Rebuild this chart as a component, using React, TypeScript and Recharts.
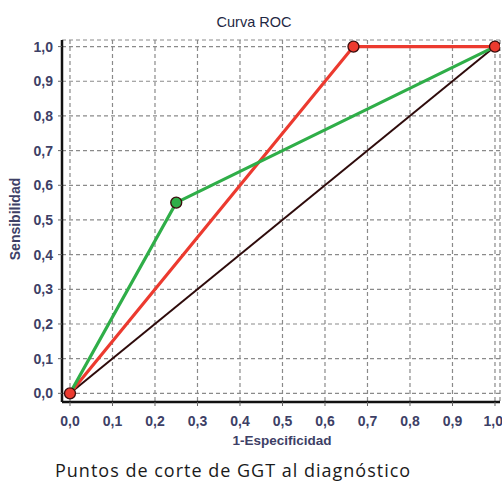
import React from 'react';
import {
  ComposedChart,
  Line,
  Scatter,
  XAxis,
  YAxis,
  CartesianGrid,
} from 'recharts';

// ROC curve for GGT cut-off points
const ggtRed = [
  { x: 0, y: 0 },
  { x: 0.667, y: 1 },
  { x: 1, y: 1 },
];
const ggtGreen = [
  { x: 0, y: 0 },
  { x: 0.25, y: 0.55 },
  { x: 1, y: 1 },
];
const reference = [
  { x: 0, y: 0 },
  { x: 1, y: 1 },
];
const axisTicks = [0, 0.1, 0.2, 0.3, 0.4, 0.5, 0.6, 0.7, 0.8, 0.9, 1];

const chartTitle = 'Curva ROC';
const xTitle = '1-Especificidad';
const yTitle = 'Sensibilidad';
const caption = 'Puntos de corte de GGT al diagnóstico';

const fmt = (v: number) => v.toFixed(1).replace('.', ',');

const tickStyle = {
  fontFamily: '"Liberation Sans", Arial, sans-serif',
  fontSize: 14,
  fontWeight: 700,
  fill: '#3d4066',
};

const labelFont = '"Liberation Sans", Arial, sans-serif';

const Marker = (fill: string) => (props: any) => {
  const { cx, cy } = props;
  if (cx == null || cy == null) return <g />;
  return <circle cx={cx} cy={cy} r={5.5} fill={fill} stroke="#3a0d0d" strokeWidth={1.3} />;
};

export default function App() {
  return (
    <div style={{ position: 'absolute', left: 0, top: 0, width: 502, height: 481, background: '#fff' }}>
      <ComposedChart
        width={502}
        height={481}
        margin={{ top: 40, right: 2, bottom: 0, left: 0 }}
      >
        <CartesianGrid
          xAxisId="b"
          yAxisId="l"
          stroke="#8a8a8a"
          strokeDasharray="4 3"
          strokeWidth={1.2}
        />
        <XAxis
          xAxisId="b"
          type="number"
          dataKey="x"
          domain={[-0.0188, 1.0118]}
          ticks={axisTicks}
          tickFormatter={fmt}
          allowDataOverflow
          height={79}
          tickSize={4}
          tickMargin={10}
          tick={tickStyle}
          tickLine={{ stroke: '#666' }}
          axisLine={{ stroke: '#111', strokeWidth: 2.5 }}
        />
        <XAxis
          xAxisId="t"
          type="number"
          dataKey="x"
          orientation="top"
          domain={[-0.0188, 1.0118]}
          height={0}
          tick={false}
          tickLine={false}
          axisLine={{ stroke: '#777', strokeWidth: 1.2 }}
        />
        <YAxis
          yAxisId="l"
          type="number"
          dataKey="y"
          domain={[-0.025, 1.019]}
          ticks={axisTicks}
          tickFormatter={fmt}
          allowDataOverflow
          width={62}
          tickSize={4}
          tickMargin={5}
          tick={tickStyle}
          tickLine={{ stroke: '#666' }}
          axisLine={{ stroke: '#111', strokeWidth: 2.5 }}
        />
        <YAxis
          yAxisId="r"
          type="number"
          dataKey="y"
          orientation="right"
          domain={[-0.025, 1.019]}
          width={0}
          tick={false}
          tickLine={false}
          axisLine={{ stroke: '#777', strokeWidth: 1.2 }}
        />
        <Line
          xAxisId="b"
          yAxisId="l"
          data={reference}
          dataKey="y"
          type="linear"
          stroke="#2e0b0b"
          strokeWidth={2}
          dot={false}
          isAnimationActive={false}
        />
        <Line
          xAxisId="b"
          yAxisId="l"
          data={ggtRed}
          dataKey="y"
          type="linear"
          stroke="#ec3a2f"
          strokeWidth={3.2}
          dot={false}
          isAnimationActive={false}
        />
        <Line
          xAxisId="b"
          yAxisId="l"
          data={ggtGreen}
          dataKey="y"
          type="linear"
          stroke="#2fae48"
          strokeWidth={3.2}
          dot={false}
          isAnimationActive={false}
        />
        <Scatter
          xAxisId="b"
          yAxisId="l"
          data={ggtGreen.slice(1, 2)}
          dataKey="y"
          shape={Marker('#2fae48')}
          isAnimationActive={false}
        />
        <Scatter
          xAxisId="b"
          yAxisId="l"
          data={ggtRed}
          dataKey="y"
          shape={Marker('#ec3a2f')}
          isAnimationActive={false}
        />
      </ComposedChart>
      <div
        style={{
          position: 'absolute',
          left: 254,
          top: 22,
          transform: 'translate(-50%, -50%)',
          fontFamily: labelFont,
          fontSize: 14.5,
          color: '#1f2844',
          whiteSpace: 'nowrap',
        }}
      >
        {chartTitle}
      </div>
      <div
        style={{
          position: 'absolute',
          left: 15,
          top: 219,
          transform: 'translate(-50%, -50%) rotate(-90deg)',
          fontFamily: labelFont,
          fontSize: 14,
          fontWeight: 700,
          color: '#3d4066',
          whiteSpace: 'nowrap',
        }}
      >
        {yTitle}
      </div>
      <div
        style={{
          position: 'absolute',
          left: 282,
          top: 440,
          transform: 'translate(-50%, -50%)',
          fontFamily: labelFont,
          fontSize: 13.5,
          fontWeight: 700,
          color: '#3d4066',
          whiteSpace: 'nowrap',
        }}
      >
        {xTitle}
      </div>
      <div
        style={{
          position: 'absolute',
          left: 55,
          top: 470,
          transform: 'translate(0, -50%)',
          fontFamily: '"Open Sans", "Noto Sans", sans-serif',
          fontSize: 18,
          letterSpacing: 1,
          color: '#1a1a1a',
          whiteSpace: 'nowrap',
        }}
      >
        {caption}
      </div>
    </div>
  );
}
